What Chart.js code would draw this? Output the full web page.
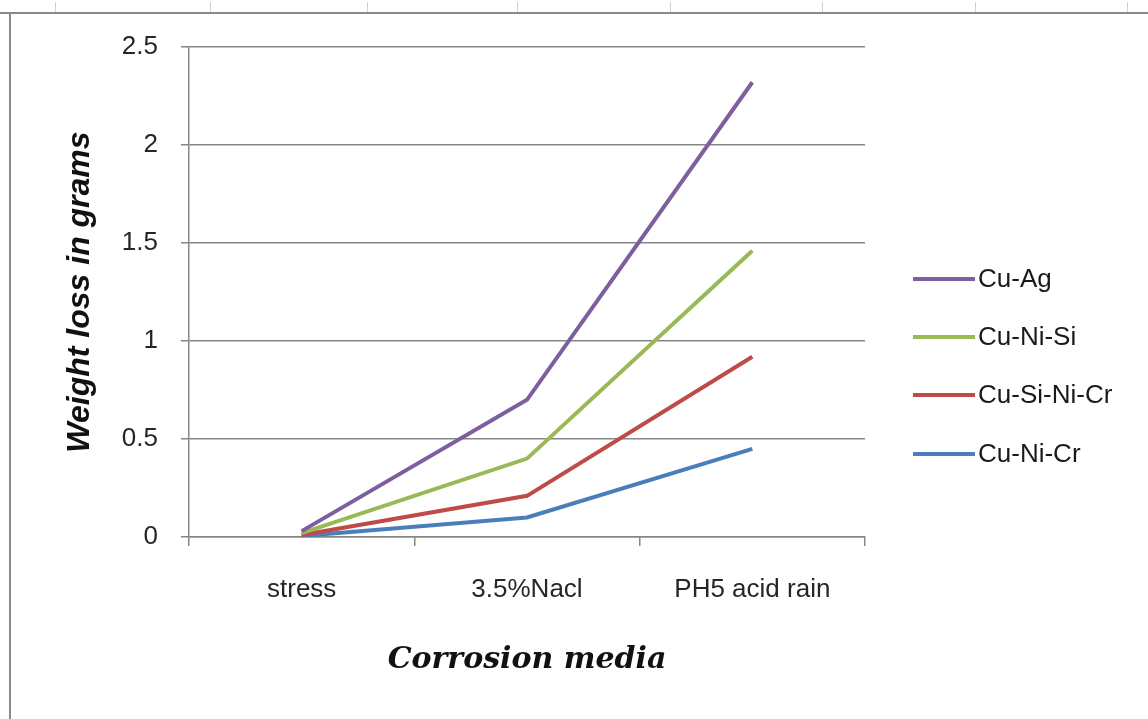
<!DOCTYPE html>
<html>
<head>
<meta charset="utf-8">
<script src="https://cdn.jsdelivr.net/npm/chart.js@4.4.1/dist/chart.umd.min.js"></script>
<style>
  html, body { margin: 0; padding: 0; background: #ffffff; }
  #wrap { position: relative; width: 1148px; height: 719px; }
</style>
</head>
<body>
<div id="wrap"><canvas id="c" width="1148" height="719"></canvas></div>
<script>
const categories = ["stress", "3.5%Nacl", "PH5 acid rain"];
const cuAg = [0.03, 0.70, 2.32];
const cuNiSi = [0.02, 0.40, 1.46];
const cuSiNiCr = [0.01, 0.21, 0.92];
const cuNiCr = [0.005, 0.10, 0.45];
const seriesNames = ["Cu-Ag", "Cu-Ni-Si", "Cu-Si-Ni-Cr", "Cu-Ni-Cr"];
const seriesColors = ["#7D5FA0", "#98B954", "#BE4B48", "#4A7EBB"];
const yTicks = [0, 0.5, 1, 1.5, 2, 2.5];

const TICK_FONT = "'Liberation Sans', Arial, sans-serif";

const framePlugin = {
  id: 'frame',
  beforeDraw(chart) {
    const ctx = chart.ctx;
    ctx.save();
    ctx.fillStyle = '#ffffff';
    ctx.fillRect(0, 0, chart.width, chart.height);
    ctx.strokeStyle = '#d0d0d0';
    ctx.lineWidth = 1;
    [55, 210, 367, 517, 670, 822, 975, 1127].forEach(x => {
      ctx.beginPath(); ctx.moveTo(x + 0.5, 2); ctx.lineTo(x + 0.5, 12); ctx.stroke();
    });
    ctx.strokeStyle = '#8a8a8a';
    ctx.lineWidth = 2;
    ctx.beginPath(); ctx.moveTo(0, 13); ctx.lineTo(chart.width, 13); ctx.stroke();
    ctx.beginPath(); ctx.moveTo(10, 13); ctx.lineTo(10, chart.height); ctx.stroke();
    ctx.restore();
  }
};

const legendPlugin = {
  id: 'customLegend',
  afterDraw(chart) {
    const ctx = chart.ctx;
    ctx.save();
    const ys = [279, 337, 395, 454];
    chart.data.datasets.forEach((ds, i) => {
      const y = ys[i];
      ctx.strokeStyle = ds.borderColor;
      ctx.lineWidth = 4;
      ctx.beginPath(); ctx.moveTo(913, y); ctx.lineTo(975, y); ctx.stroke();
      ctx.fillStyle = '#1a1a1a';
      ctx.font = "26px " + TICK_FONT;
      ctx.textBaseline = 'middle';
      ctx.textAlign = 'left';
      ctx.fillText(ds.label, 978, y + 1);
    });
    ctx.restore();
  }
};

const seriesData = [cuAg, cuNiSi, cuSiNiCr, cuNiCr];

new Chart(document.getElementById('c'), {
  type: 'line',
  data: {
    labels: categories,
    datasets: seriesData.map((d, i) => ({
      label: seriesNames[i],
      data: d,
      borderColor: seriesColors[i],
      backgroundColor: seriesColors[i],
      borderWidth: 4,
      pointRadius: 0,
      tension: 0,
      fill: false
    }))
  },
  options: {
    responsive: false,
    animation: false,
    events: [],
    layout: { padding: { left: 0, right: 283, top: 47, bottom: 0 } },
    plugins: {
      legend: { display: false },
      tooltip: { enabled: false },
      title: { display: false }
    },
    scales: {
      x: {
        type: 'category',
        offset: true,
        grid: {
          offset: true,
          drawOnChartArea: false,
          drawTicks: true,
          tickLength: 9,
          color: '#868686',
          lineWidth: 1.5
        },
        border: { display: true, color: '#868686', width: 1.5 },
        ticks: {
          color: '#262626',
          font: { family: TICK_FONT, size: 26 },
          padding: 28,
          maxRotation: 0,
          autoSkip: false
        },
        title: {
          display: true,
          text: 'Corrosion media',
          color: '#111111',
          font: { family: "'DejaVu Serif', serif", size: 30, style: 'italic', weight: 'bold' },
          padding: { top: 0, bottom: 41 }
        },
        afterFit(scale) { scale.height = 182; }
      },
      y: {
        min: 0,
        max: 2.5,
        afterBuildTicks(scale) { scale.ticks = yTicks.map(v => ({ value: v })); },
        grid: {
          color: '#868686',
          lineWidth: 1.5,
          tickLength: 8,
          drawTicks: true
        },
        border: { display: true, color: '#868686', width: 1.5 },
        ticks: {
          color: '#262626',
          font: { family: TICK_FONT, size: 26 },
          padding: 23,
          callback: (v) => String(v)
        },
        title: {
          display: true,
          text: 'Weight loss in grams',
          color: '#111111',
          font: { family: TICK_FONT, size: 32, style: 'italic', weight: 'bold' },
          padding: { top: 61, bottom: 0 }
        },
        afterFit(scale) { scale.width = 189; }
      }
    }
  },
  plugins: [framePlugin, legendPlugin]
});
</script>
</body>
</html>
